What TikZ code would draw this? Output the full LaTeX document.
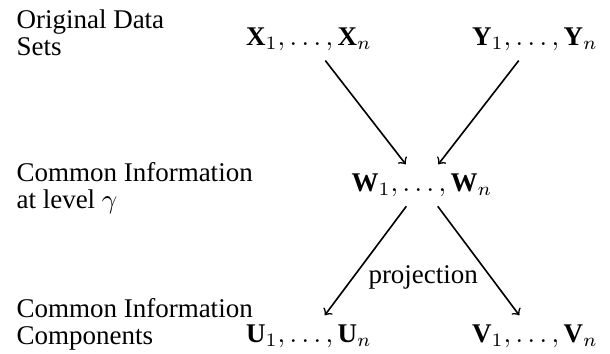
\documentclass[tikz,border=0pt]{standalone}
\usepackage{fontspec}
\setmainfont{Liberation Serif}
\usepackage{amsmath}
\usepackage{tikz}
\usetikzlibrary{positioning}

\begin{document}
\begin{tikzpicture}[auto, >=to,
    lbl/.style={align=left, anchor=base west, font=\fontsize{10}{10}\selectfont},
    seq/.style={anchor=base}]
        \useasboundingbox (0,0) rectangle (7.941,-4.608);

        % Row labels (base = last line)
        \node [lbl] (orig) at (0.091,-0.716) {Original Data\\Sets};
        \node [lbl] (common) at (0.091,-2.708) {Common Information\\at level $\gamma$};
        \node [lbl] (comp) at (0.091,-4.491) {Common Information\\Components};

        % Nodes for data sets
        \node [seq] (x) at (4.023,-0.596) {$\mathbf{X}_1,\ldots,\mathbf{X}_n$};
        \node [seq] (y) at (6.965,-0.596) {$\mathbf{Y}_1,\ldots,\mathbf{Y}_n$};
        \node [seq] (w) at (5.494,-2.493) {$\mathbf{W}_1,\ldots,\mathbf{W}_n$};
        \node [seq] (u) at (4.023,-4.459) {$\mathbf{U}_1,\ldots,\mathbf{U}_n$};
        \node [seq] (v) at (6.965,-4.459) {$\mathbf{V}_1,\ldots,\mathbf{V}_n$};

        % Arrows
        \draw [semithick, ->] (x) -- (w);
        \draw [semithick, ->] (y) -- (w);
        \draw [semithick, ->] (w) -- node [pos=0.65, right=2pt] {projection} (u);
        \draw [semithick, ->] (w) -- (v);
    \end{tikzpicture}
\end{document}
